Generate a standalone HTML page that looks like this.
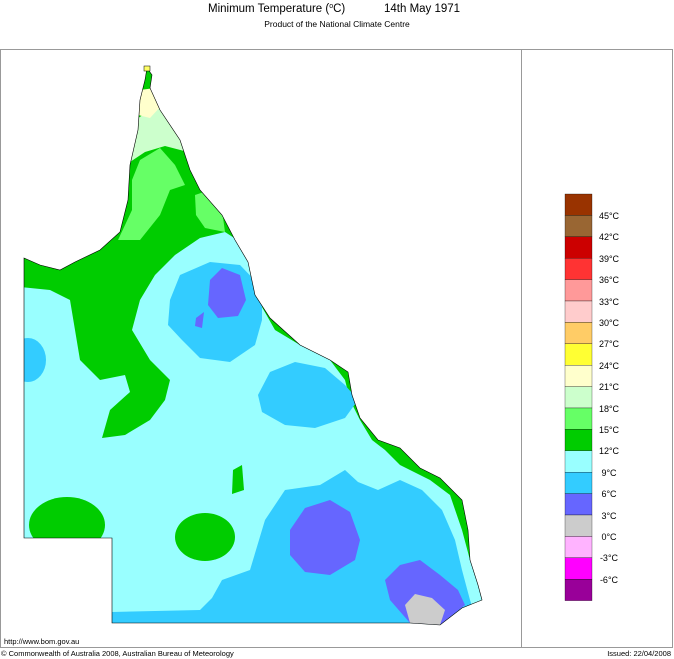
<!DOCTYPE html>
<html><head><style>
html,body{margin:0;background:#fff;width:674px;height:659px;overflow:hidden;font-family:"Liberation Sans",sans-serif}
svg{display:block}
</style></head><body>
<svg width="674" height="659" xmlns="http://www.w3.org/2000/svg" font-family="Liberation Sans, sans-serif">
<text x="208" y="12" font-size="11.5">Minimum Temperature (<tspan font-size="7" dy="-4">o</tspan><tspan dy="4">C)</tspan></text>
<text x="384" y="12" font-size="11.5">14th May 1971</text>
<text x="337" y="27" font-size="8.5" text-anchor="middle">Product of the National Climate Centre</text>
<rect x="0.5" y="49.5" width="672" height="598" fill="none" stroke="#999"/>
<line x1="521.5" y1="49" x2="521.5" y2="647" stroke="#999"/>
<defs><clipPath id="q"><path id="qp" d="M24,258 L40,265 L60,270 L75,262 L100,250 L120,232 L128,200 L130,165 L138,130 L140,100 L145,80 L147,68 L152,75 L150,88 L160,110 L180,140 L190,170 L200,190 L222,215 L235,240 L248,262 L255,295 L270,318 L300,345 L330,360 L348,372 L352,395 L360,418 L378,440 L400,448 L420,468 L440,478 L462,500 L468,530 L470,560 L478,585 L482,600 L462,608 L440,625 L410,623 L112,623 L112,538 L24,538 Z"/></clipPath></defs>
<g clip-path="url(#q)">
<rect x="0" y="50" width="520" height="590" fill="#00cc00"/>
<path fill="#99ffff" d="M0,285 L50,290 L70,300 L75,330 L80,360 L100,380 L125,375 L130,392 L110,410 L102,438 L125,435 L150,420 L165,400 L170,380 L150,360 L132,330 L140,300 L155,275 L175,255 L200,238 L225,232 L245,245 L255,270 L258,300 L275,330 L300,345 L330,360 L345,380 L350,400 L360,420 L372,440 L385,450 L400,465 L430,480 L450,495 L462,530 L470,560 L500,640 L0,640 Z"/>
<path fill="#66ff66" d="M118,240 L132,210 L132,180 L140,160 L160,148 L175,165 L185,185 L170,190 L160,215 L140,240 Z"/>
<path fill="#66ff66" d="M195,195 L210,190 L222,210 L225,232 L205,228 L196,215 Z"/>
<path fill="#ccffcc" d="M130,145 L138,118 L160,105 L175,125 L188,152 L165,146 L145,152 L130,162 Z"/>
<path fill="#ffffcc" d="M140,90 L155,88 L162,105 L150,118 L138,115 Z"/>
<ellipse cx="67" cy="525" rx="38" ry="28" fill="#00cc00"/>
<ellipse cx="205" cy="537" rx="30" ry="24" fill="#00cc00"/>
<path fill="#00cc00" d="M233,470 L242,465 L244,490 L232,494 Z"/>
<ellipse cx="28" cy="360" rx="18" ry="22" fill="#33ccff"/>
<path fill="#33ccff" d="M170,300 L180,275 L210,262 L240,265 L262,288 L262,320 L255,345 L230,362 L200,358 L182,340 L168,325 Z"/>
<path fill="#6666ff" d="M210,280 L222,268 L240,275 L246,300 L238,316 L218,318 L208,305 Z"/>
<path fill="#6666ff" d="M196,318 L204,312 L202,328 L195,326 Z"/>
<path fill="#33ccff" d="M258,395 L270,372 L295,362 L325,368 L345,385 L358,400 L345,418 L315,428 L285,425 L262,412 Z"/>
<path fill="#33ccff" d="M112,612 L200,610 L212,598 L222,580 L250,570 L265,520 L285,490 L320,485 L345,470 L358,482 L378,490 L400,480 L422,490 L442,510 L455,540 L462,570 L470,600 L480,630 L112,630 Z"/>
<path fill="#6666ff" d="M290,530 L305,508 L330,500 L350,512 L360,540 L355,560 L330,575 L305,572 L290,555 Z"/>
<path fill="#6666ff" d="M385,580 L400,565 L420,560 L440,575 L458,590 L465,605 L440,625 L410,623 L390,600 Z"/>
<path fill="#cccccc" d="M405,605 L415,594 L432,598 L445,610 L440,625 L410,623 Z"/>
</g>
<use href="#qp" fill="none" stroke="#000" stroke-width="0.6"/>
<rect x="144" y="66" width="6" height="5" fill="#ffff66" stroke="#000" stroke-width="0.5"/>
<g stroke="#000" stroke-width="0.3">
<rect x="565" y="194" width="27" height="21.4" fill="#993300"/>
<rect x="565" y="215.4" width="27" height="21.4" fill="#996633"/>
<rect x="565" y="236.8" width="27" height="21.4" fill="#cc0000"/>
<rect x="565" y="258.2" width="27" height="21.4" fill="#ff3333"/>
<rect x="565" y="279.6" width="27" height="21.4" fill="#ff9999"/>
<rect x="565" y="301" width="27" height="21.4" fill="#ffcccc"/>
<rect x="565" y="322.4" width="27" height="21.4" fill="#ffcc66"/>
<rect x="565" y="343.8" width="27" height="21.4" fill="#ffff33"/>
<rect x="565" y="365.2" width="27" height="21.4" fill="#ffffcc"/>
<rect x="565" y="386.6" width="27" height="21.4" fill="#ccffcc"/>
<rect x="565" y="408" width="27" height="21.4" fill="#66ff66"/>
<rect x="565" y="429.4" width="27" height="21.4" fill="#00cc00"/>
<rect x="565" y="450.8" width="27" height="21.4" fill="#99ffff"/>
<rect x="565" y="472.2" width="27" height="21.4" fill="#33ccff"/>
<rect x="565" y="493.6" width="27" height="21.4" fill="#6666ff"/>
<rect x="565" y="515" width="27" height="21.4" fill="#cccccc"/>
<rect x="565" y="536.4" width="27" height="21.4" fill="#ffb3ff"/>
<rect x="565" y="557.8" width="27" height="21.4" fill="#ff00ff"/>
<rect x="565" y="579.2" width="27" height="21.4" fill="#990099"/>
</g>
<g font-size="9" text-anchor="middle">
<text x="609" y="219">45°C</text><text x="609" y="240">42°C</text><text x="609" y="262">39°C</text>
<text x="609" y="283">36°C</text><text x="609" y="305">33°C</text><text x="609" y="326">30°C</text>
<text x="609" y="347">27°C</text><text x="609" y="369">24°C</text><text x="609" y="390">21°C</text>
<text x="609" y="412">18°C</text><text x="609" y="433">15°C</text><text x="609" y="454">12°C</text>
<text x="609" y="476">9°C</text><text x="609" y="497">6°C</text><text x="609" y="519">3°C</text>
<text x="609" y="540">0°C</text><text x="609" y="561">-3°C</text><text x="609" y="583">-6°C</text>
</g>
<text x="4" y="644" font-size="7.5">http://www.bom.gov.au</text>
<text x="1" y="656" font-size="7.5">© Commonwealth of Australia 2008, Australian Bureau of Meteorology</text>
<text x="671" y="656" font-size="7.5" text-anchor="end">Issued: 22/04/2008</text>
</svg>
</body></html>
